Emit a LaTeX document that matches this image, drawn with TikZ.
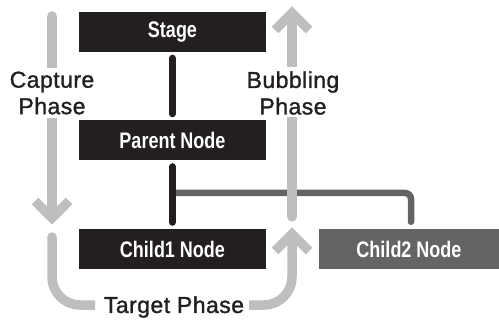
\documentclass[tikz,border=0pt]{standalone}
\usepackage{fontspec}
\usetikzlibrary{calc}
\setmainfont{Liberation Sans}
\newfontfamily\boxfont{Liberation Sans}[FakeStretch=0.8]
\newfontfamily\labfont{Liberation Sans}[LetterSpace=2, FakeBold=1.3]
\definecolor{boxblack}{HTML}{231F20}
\definecolor{darkgr}{HTML}{646466}
\definecolor{lightgr}{HTML}{BCBEC0}
\tikzset{
  box/.style={fill=boxblack, text=white, minimum width=187pt, minimum height=40pt,
    inner sep=0pt, font=\boxfont\bfseries\fontsize{22.5}{22.5}\selectfont},
  graybox/.style={box, fill=darkgr, minimum width=180pt},
  lab/.style={text=boxblack, align=center, inner sep=0pt,
    font=\labfont\fontsize{23}{26.5}\selectfont},
  blackline/.style={draw=boxblack, line width=7pt, line cap=round},
  grayline/.style={draw=darkgr, line width=6.5pt, line cap=round, rounded corners=6pt},
  flow/.style={draw=lightgr, line width=9.5pt},
  chev/.style={draw=lightgr, line width=9.5pt, line join=miter, miter limit=4}
}
\begin{document}
\begin{tikzpicture}[x=1pt,y=-1pt]
\useasboundingbox (0,0) rectangle (499,321);
% nodes
\node[box] (stage) at (172.5,32) {Stage};
\node[box] (parent) at (172.5,140) {Parent Node};
\node[box] (child1) at (172.5,249) {Child1 Node};
\node[graybox] (child2) at (409,249) {Child2 Node};
\coordinate (branch) at (172.5,193);
\coordinate (c2top) at ($(child2.north)+(2,-7)$);
% connectors
\draw[grayline] (branch) -| (c2top);
\draw[blackline, shorten <=6pt, shorten >=6pt] (stage) -- (parent);
\draw[blackline, shorten <=6.5pt, shorten >=6.5pt] (parent) -- (child1);
% labels
\node[lab] (cap) at (52,93) {Capture\\Phase};
\node[lab] (bub) at (293,93) {Bubbling\\Phase};
\node[lab, anchor=center] (tgt) at (174,307) {Target Phase};
% capture arrow
\coordinate (capA) at (52,16);
\coordinate (capB) at (52,68);
\coordinate (capC) at (52,118);
\coordinate (capD) at (52,216);
\fill[lightgr] (capA) circle (4.75pt);
\draw[flow] (capA) -- (capB);
\draw[flow] (capC) -- (capD);
\draw[chev] (35,201) -- (52,218) -- (69,201);
% target U
\coordinate (uA) at (52,237);
\coordinate (uB) at (95,305);
\coordinate (uC) at (249,305);
\coordinate (uD) at (292,240);
\fill[lightgr] (uA) circle (4.75pt);
\draw[flow, rounded corners=28pt] (uA) |- (uB);
\draw[flow, rounded corners=28pt] (uC) -| (uD);
\draw[chev] (275,251) -- (292,234) -- (309,251);
% bubbling arrow
\coordinate (bA) at (292,217);
\coordinate (bB) at (292,117);
\coordinate (bC) at (292,67);
\coordinate (bD) at (292,14);
\fill[lightgr] (bA) circle (4.75pt);
\draw[flow] (bA) -- (bB);
\draw[flow] (bC) -- (bD);
\draw[chev] (275,30) -- (292,13) -- (309,30);
\end{tikzpicture}
\end{document}
